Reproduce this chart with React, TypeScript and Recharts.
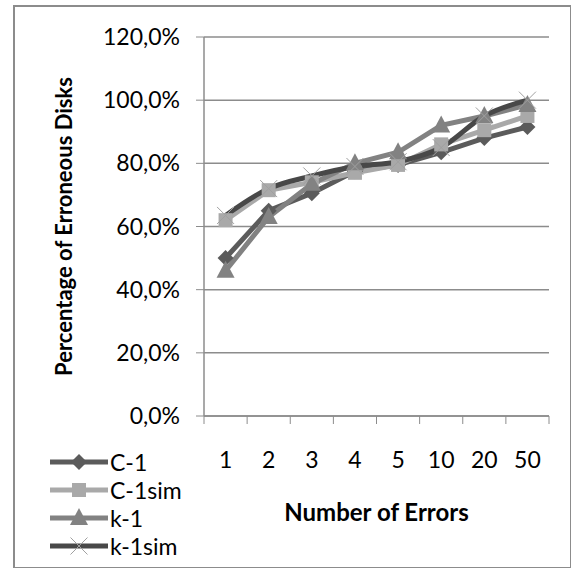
import { LineChart, Line, XAxis, YAxis, CartesianGrid, Legend } from 'recharts'

const categories = ['1', '2', '3', '4', '5', '10', '20', '50']
const c1 = [50, 65, 70.5, 77.5, 79.5, 83.5, 88, 91.5]
const c1sim = [62, 71.5, 74, 77, 79.5, 86, 90.5, 95]
const k1 = [46, 63, 73.5, 80, 83.5, 92, 95, 98.5]
const k1sim = [63.5, 72, 76, 79, 80.5, 85, 95, 100]
const yTicks = [0, 20, 40, 60, 80, 100, 120]

const FONT = 'Lato, "Open Sans", sans-serif'
const AXIS_GREY = '#8c8c8c'

const data = categories.map((c, i) => ({
  cat: c,
  c1: c1[i],
  c1sim: c1sim[i],
  k1: k1[i],
  k1sim: k1sim[i],
}))

type Shape = 'diamond' | 'square' | 'triangle' | 'cross'

const series: { key: string; name: string; color: string; shape: Shape; curved?: boolean }[] = [
  { key: 'c1', name: 'C-1', color: '#5b5b5b', shape: 'diamond' },
  { key: 'c1sim', name: 'C-1sim', color: '#a9a9a9', shape: 'square' },
  { key: 'k1', name: 'k-1', color: '#828282', shape: 'triangle' },
  { key: 'k1sim', name: 'k-1sim', color: '#484848', shape: 'cross', curved: true },
]

function Marker({ shape, cx, cy, color }: { shape: Shape; cx: number; cy: number; color: string }) {
  if (shape === 'diamond') {
    const r = 8
    return <polygon points={`${cx},${cy - r} ${cx + r},${cy} ${cx},${cy + r} ${cx - r},${cy}`} fill={color} />
  }
  if (shape === 'square') {
    const s = 14
    return <rect x={cx - s / 2} y={cy - s / 2} width={s} height={s} fill={color} />
  }
  if (shape === 'triangle') {
    return <polygon points={`${cx},${cy - 10} ${cx + 9},${cy + 7} ${cx - 9},${cy + 7}`} fill={color} />
  }
  const r = 8.5
  return (
    <g stroke="#a0a0a0" strokeWidth={1}>
      <line x1={cx - r} y1={cy - r} x2={cx + r} y2={cy + r} />
      <line x1={cx - r} y1={cy + r} x2={cx + r} y2={cy - r} />
    </g>
  )
}

const fmtPct = (v: number) => `${v.toFixed(1).replace('.', ',')}%`

function XTick(props: any) {
  const { x, y, payload, index, visibleTicksCount } = props
  const half = payload?.offset || 345 / categories.length / 2
  const last = index === (visibleTicksCount ?? categories.length) - 1
  return (
    <g>
      <line x1={x - half} y1={y} x2={x - half} y2={y + 8} stroke={AXIS_GREY} />
      {last && <line x1={x + half} y1={y} x2={x + half} y2={y + 8} stroke={AXIS_GREY} />}
      <text x={x} y={y + 43} dominantBaseline="central" textAnchor="middle" fontSize={23} fontFamily={FONT} fill="#000">
        {payload.value}
      </text>
    </g>
  )
}

function renderLegend() {
  return (
    <div style={{ fontFamily: FONT, fontSize: 23, color: '#000' }}>
      {series.map(s => (
        <div key={s.key} style={{ display: 'flex', alignItems: 'center', height: 28 }}>
          <svg width={60} height={24}>
            <line x1={0} y1={12} x2={58} y2={12} stroke={s.color} strokeWidth={5} />
            <Marker shape={s.shape} cx={29} cy={12} color={s.color} />
          </svg>
          <span style={{ lineHeight: '23px' }}>{s.name}</span>
        </div>
      ))}
    </div>
  )
}

export default function App() {
  return (
    <div style={{ position: 'absolute', left: 0, top: 0, width: 571, height: 568, background: '#fff' }}>
      <div
        style={{
          position: 'absolute',
          left: 13,
          top: 5,
          width: 555,
          height: 560,
          border: `2px solid ${AXIS_GREY}`,
        }}
      />
      <div style={{ position: 'absolute', left: 0, top: 0 }}>
        <LineChart width={571} height={568} data={data} margin={{ top: 37, right: 22, bottom: 112, left: 0 }}>
          <CartesianGrid vertical={false} stroke={AXIS_GREY} strokeWidth={1.5} />
          <XAxis
            dataKey="cat"
            scale="band"
            height={40}
            axisLine={{ stroke: AXIS_GREY, strokeWidth: 1.5 }}
            tickLine={false}
            tickSize={0}
            tickMargin={0}
            tick={<XTick />}
            interval={0}
            label={{
              content: (p: any) => {
                const vb = p.viewBox
                return (
                  <text
                    x={vb.x + vb.width / 2}
                    y={vb.y + 95}
                    textAnchor="middle"
                    dominantBaseline="central"
                    fontSize={24}
                    fontWeight="bold"
                    fontFamily={FONT}
                    fill="#000"
                  >
                    Number of Errors
                  </text>
                )
              },
            }}
          />
          <YAxis
            width={204}
            domain={[0, 120]}
            ticks={yTicks}
            tickFormatter={fmtPct}
            axisLine={{ stroke: AXIS_GREY, strokeWidth: 1.5 }}
            tickLine={{ stroke: AXIS_GREY }}
            tickSize={8}
            tickMargin={16}
            tick={{ fontSize: 23, fontFamily: FONT, fill: '#000' }}
            label={{
              content: (p: any) => {
                const vb = p.viewBox
                const cx = vb.x + 63
                const cy = vb.y + vb.height / 2
                return (
                  <text
                    x={cx}
                    y={cy}
                    transform={`rotate(-90 ${cx} ${cy})`}
                    textAnchor="middle"
                    dominantBaseline="central"
                    fontSize={22}
                    fontWeight="bold"
                    fontFamily={FONT}
                    fill="#000"
                  >
                    Percentage of Erroneous Disks
                  </text>
                )
              },
            }}
          />
          {series.map(s => (
            <Line
              key={s.key}
              dataKey={s.key}
              name={s.name}
              type={s.curved ? 'monotone' : 'linear'}
              stroke={s.color}
              strokeWidth={5}
              isAnimationActive={false}
              dot={(p: any) => <Marker key={`${s.key}-${p.index}`} shape={s.shape} cx={p.cx} cy={p.cy} color={s.color} />}
              activeDot={false}
            />
          ))}
          <Legend
            layout="vertical"
            align="center"
            verticalAlign="middle"
            wrapperStyle={{ left: 50, top: 448, width: 150 }}
            content={renderLegend}
          />
        </LineChart>
      </div>
    </div>
  )
}
